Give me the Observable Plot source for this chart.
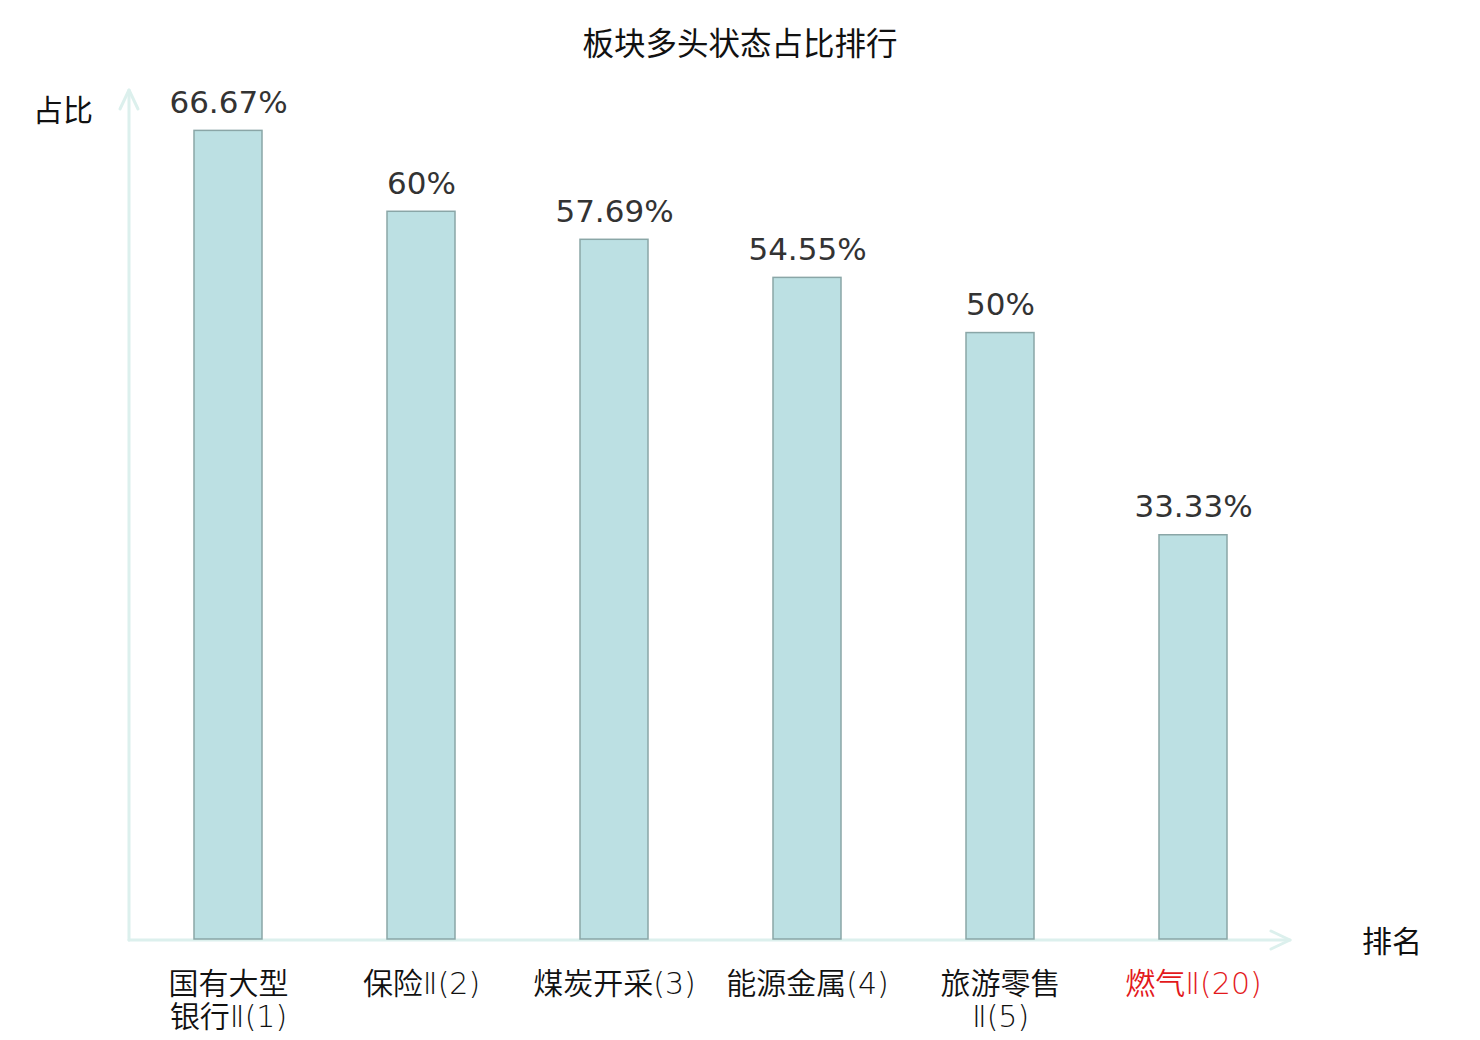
<!DOCTYPE html>
<html>
<head>
<meta charset="utf-8">
<script src="https://cdn.jsdelivr.net/npm/d3@7"></script>
<script src="https://cdn.jsdelivr.net/npm/@observablehq/plot@0.6"></script>
<style>
  body { margin: 0; background: #fff; }
  #title { width: 1480px; height: 70px; box-sizing: border-box; padding-top: 23px; text-align: center;
           font-family: "Noto Sans CJK SC", sans-serif; font-size: 31.5px; line-height: 36px; color: #111; }
  #chart svg { display: block; }
</style>
</head>
<body>
<div id="title">板块多头状态占比排行</div>
<div id="chart"></div>
<script>
// ---- data ----
const categories = ["国有大型银行Ⅱ(1)", "保险Ⅱ(2)", "煤炭开采(3)", "能源金属(4)", "旅游零售Ⅱ(5)", "燃气Ⅱ(20)"];
const tickLabels = ["国有大型\n银行Ⅱ(1)", "保险Ⅱ(2)", "煤炭开采(3)", "能源金属(4)", "旅游零售\nⅡ(5)", "燃气Ⅱ(20)"];
const values = [66.67, 60, 57.69, 54.55, 50, 33.33];
const highlighted = ["燃气Ⅱ(20)"];
const yAxisLabel = "占比";
const xAxisLabel = "排名";
const yMax = 70;

const data = categories.map((name, i) => ({name, label: tickLabels[i], value: values[i], hi: highlighted.includes(name)}));

const axisColor = "#dcf0ed";

function axesMark(index, scales, values, dims) {
  const {width, marginLeft, marginRight} = dims;
  const y = scales.y;
  const g = d3.create("svg:g");
  const x0 = marginLeft - 1, x1 = width - marginRight, y0 = y(0) + 1, yTop = y(yMax);
  const p = g.append("g").attr("fill", "none").attr("stroke", axisColor).attr("stroke-width", 3)
    .attr("stroke-linecap", "round").attr("stroke-linejoin", "round");
  p.append("path").attr("d", `M${x0},${y0}V${yTop}`);
  p.append("path").attr("d", `M${x0 - 9},${yTop + 19}L${x0},${yTop}L${x0 + 9},${yTop + 19}`);
  p.append("path").attr("d", `M${x0},${y0}H${x1}`);
  p.append("path").attr("d", `M${x1 - 19},${y0 - 9}L${x1},${y0}L${x1 - 19},${y0 + 9}`);
  const t = g.append("g").attr("font-family", "'Noto Sans CJK SC', sans-serif").attr("font-size", 30).attr("fill", "#111");
  t.append("text").attr("x", x0 - 66).attr("y", yTop + 31).attr("text-anchor", "middle").text(yAxisLabel);
  t.append("text").attr("x", x1 + 102).attr("y", y0 + 12).attr("text-anchor", "middle").text(xAxisLabel);
  return g.node();
}

const chart = Plot.plot({
  width: 1480,
  height: 970,
  marginTop: 20,
  marginBottom: 101,
  marginLeft: 130,
  marginRight: 190,
  x: {domain: categories, paddingInner: 0.648, paddingOuter: 0.324, axis: null},
  y: {domain: [0, yMax], axis: null},
  marks: [
    axesMark,
    Plot.barY(data, {x: "name", y: "value", fill: "#bce0e3", stroke: "#8aa6a7", strokeWidth: 1.5}),
    Plot.text(data, {x: "name", y: "value", text: d => `${d.value}%`, dy: -18, lineAnchor: "bottom",
      fontSize: 31, fontFamily: "DejaVu Sans", fill: "#333"}),
    Plot.text(data, {x: "name", frameAnchor: "bottom", text: "label", dy: 31, lineAnchor: "top",
      lineHeight: 1.1, fontSize: 30, fontFamily: "'DejaVu Sans', 'Noto Sans CJK SC'", fontWeight: 350,
      fill: d => d.hi ? "#e3191c" : "#111"})
  ]
});
document.getElementById("chart").appendChild(chart);
</script>
</body>
</html>
